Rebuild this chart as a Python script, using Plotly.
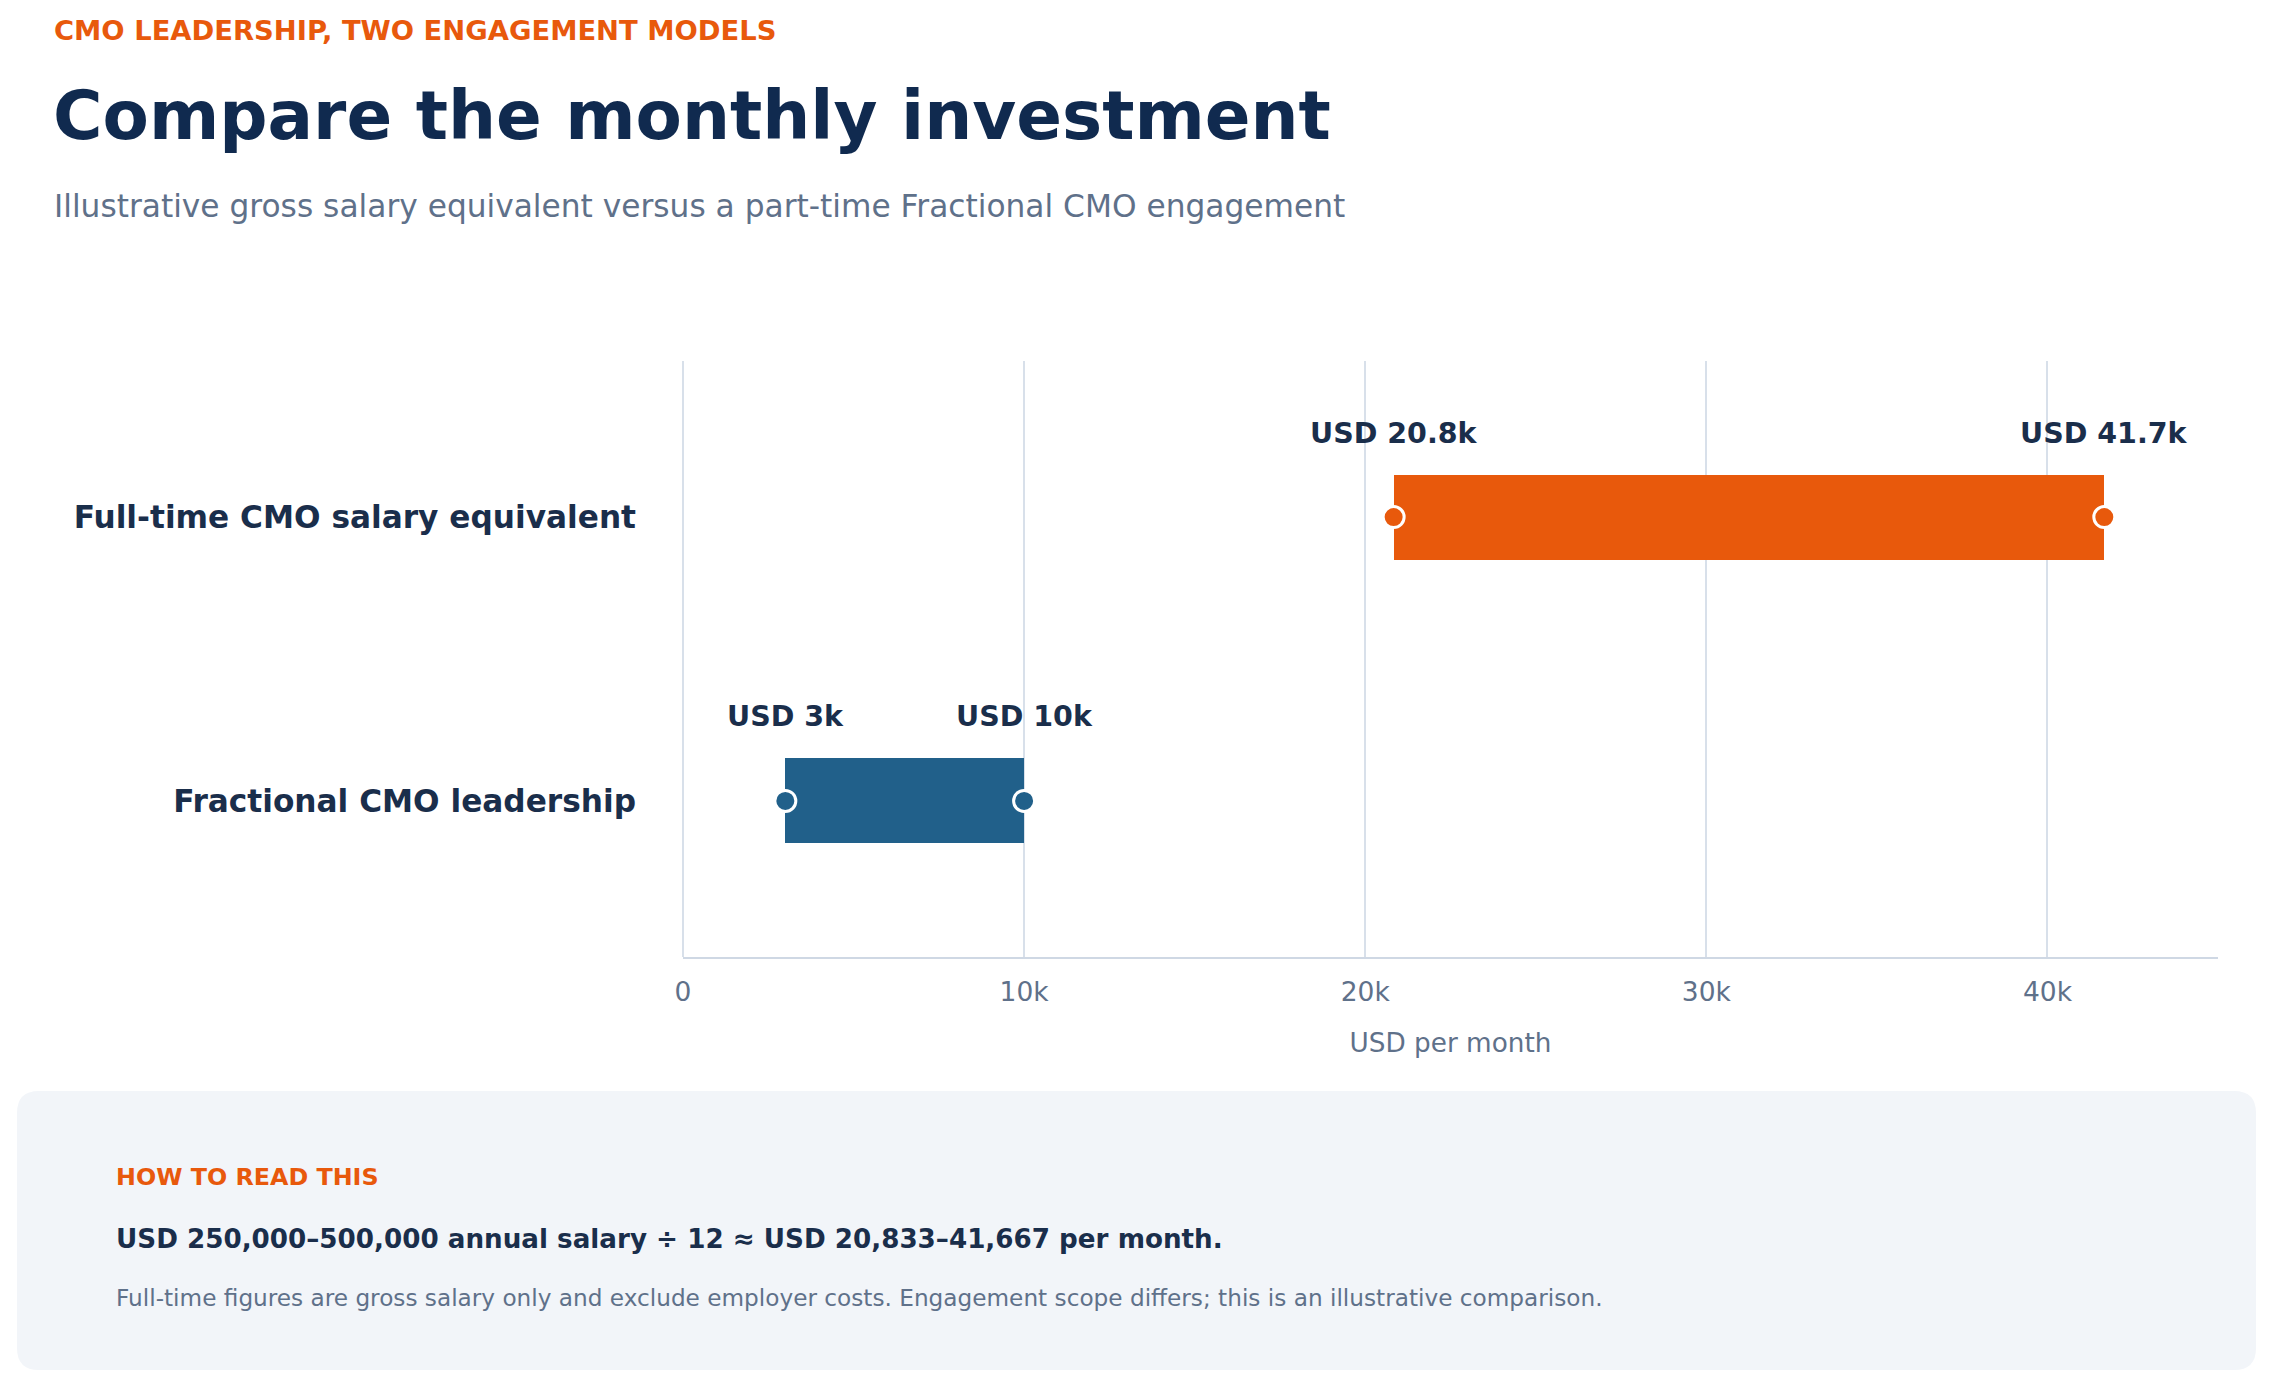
import plotly.graph_objects as go

# data
categories = ["Fractional CMO leadership", "Full-time CMO salary equivalent"]
low_usd = [3000, 20833]
high_usd = [10000, 41667]
low_labels = ["USD 3k", "USD 20.8k"]
high_labels = ["USD 10k", "USD 41.7k"]
bar_colors = ["#21608a", "#e8590c"]

# page has 8px body margin, so the figure is a bit smaller than the window
W, H = 2257, 1371
L, R, T, B = 675, 47, 353, 422
pw, ph = W - L - R, H - T - B

def px(x):
    return (x - L) / pw

def py(y):
    return (H - B - y) / ph

FONT = "DejaVu Sans"
NAVY = "#1a2e4b"
GREY = "#5f718a"
ORANGE = "#e8590c"

fig = go.Figure()

# range bars
fig.add_trace(go.Bar(
    y=categories, x=[h - l for l, h in zip(low_usd, high_usd)], base=low_usd,
    orientation="h", width=0.3, marker=dict(color=bar_colors, line=dict(width=0)),
    hoverinfo="skip", showlegend=False,
))

# end dots + value labels
for i in range(len(categories)):
    fig.add_trace(go.Scatter(
        x=[low_usd[i], high_usd[i]], y=[categories[i], categories[i]],
        mode="markers",
        marker=dict(size=21, color=bar_colors[i], line=dict(color="white", width=3)),
        hoverinfo="skip", showlegend=False, cliponaxis=False,
    ))
    for val, lab in ((low_usd[i], low_labels[i]), (high_usd[i], high_labels[i])):
        fig.add_annotation(x=val, y=categories[i], xref="x", yref="y", text="<b>" + lab + "</b>",
                           showarrow=False, yshift=84, font=dict(family=FONT, size=28.5, color=NAVY))

# header
fig.add_annotation(x=px(44), y=py(22), xref="paper", yref="paper", xanchor="left", yanchor="middle",
                   text="<b>CMO LEADERSHIP, TWO ENGAGEMENT MODELS</b>", showarrow=False,
                   font=dict(family=FONT, size=27.4, color=ORANGE))
fig.add_annotation(x=px(43), y=py(107), xref="paper", yref="paper", xanchor="left", yanchor="middle",
                   text="<b>Compare the monthly investment</b>", showarrow=False,
                   font=dict(family=FONT, size=67.5, color="#102a4f"))
fig.add_annotation(x=px(44), y=py(198), xref="paper", yref="paper", xanchor="left", yanchor="middle",
                   text="Illustrative gross salary equivalent versus a part-time Fractional CMO engagement",
                   showarrow=False, font=dict(family=FONT, size=31.25, color=GREY))

# note card
x0, x1, y0, y1, r = 9, 2248, 1083, 1362, 22
path = (f"M {px(x0 + r)} {py(y0)} L {px(x1 - r)} {py(y0)} Q {px(x1)} {py(y0)} {px(x1)} {py(y0 + r)} "
        f"L {px(x1)} {py(y1 - r)} Q {px(x1)} {py(y1)} {px(x1 - r)} {py(y1)} "
        f"L {px(x0 + r)} {py(y1)} Q {px(x0)} {py(y1)} {px(x0)} {py(y1 - r)} "
        f"L {px(x0)} {py(y0 + r)} Q {px(x0)} {py(y0)} {px(x0 + r)} {py(y0)} Z")
fig.add_shape(type="path", path=path, xref="paper", yref="paper",
              fillcolor="#f2f5f9", line=dict(width=0), layer="below")

fig.add_annotation(x=px(106), y=py(1169), xref="paper", yref="paper", xanchor="left", yanchor="middle",
                   text="<b>HOW TO READ THIS</b>", showarrow=False,
                   font=dict(family=FONT, size=23.8, color=ORANGE))
fig.add_annotation(x=px(106), y=py(1231), xref="paper", yref="paper", xanchor="left", yanchor="middle",
                   text="<b>USD 250,000–500,000 annual salary ÷ 12 ≈ USD 20,833–41,667 per month.</b>",
                   showarrow=False, font=dict(family=FONT, size=26.2, color=NAVY))
fig.add_annotation(x=px(106), y=py(1289), xref="paper", yref="paper", xanchor="left", yanchor="middle",
                   text="Full-time figures are gross salary only and exclude employer costs. "
                        "Engagement scope differs; this is an illustrative comparison.",
                   showarrow=False, font=dict(family=FONT, size=23.2, color=GREY))

fig.update_layout(
    width=W, height=H,
    margin=dict(l=L, r=R, t=T, b=B),
    paper_bgcolor="white", plot_bgcolor="white",
    font=dict(family=FONT, color=NAVY),
    bargap=0,
)
fig.update_xaxes(
    range=[0, 45000], dtick=10000, tickformat="~s",
    showgrid=True, gridcolor="#d8e0ea", gridwidth=2,
    zeroline=True, zerolinecolor="#d8e0ea", zerolinewidth=2,
    showline=True, linecolor="#cfd8e4", linewidth=2,
    ticks="", ticklabelstandoff=10,
    tickfont=dict(family=FONT, size=26.5, color=GREY),
    title=dict(text="USD per month", font=dict(family=FONT, size=26.3, color=GREY), standoff=28),
)
fig.update_yaxes(
    range=[-0.55, 1.55], showgrid=False, zeroline=False, showline=False,
    ticks="", ticklabelstandoff=46,
    tickfont=dict(family=FONT, size=31.2, color=NAVY, weight="bold"),
)

fig.write_html("out.html")
